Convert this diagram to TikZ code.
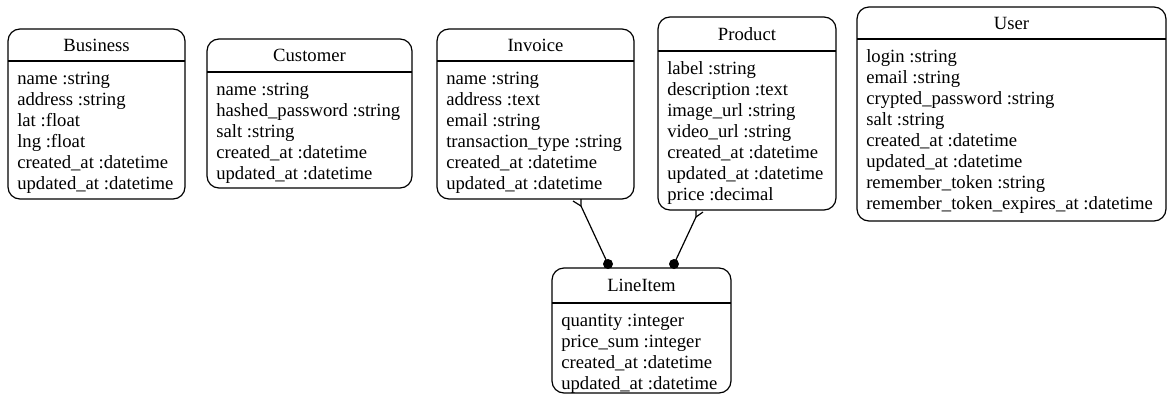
\documentclass[tikz,border=0pt]{standalone}
\usepackage{fontspec}
\setmainfont{Liberation Serif}
\usetikzlibrary{fit,calc}
\tikzset{
  ent/.style={draw, line width=0.9pt, rounded corners=9pt, inner sep=0pt},
  ttl/.style={inner sep=0pt, font=\fontsize{14}{16}\selectfont},
  attr/.style={inner sep=0pt, anchor=base west, font=\fontsize{14}{16}\selectfont},
  dotm/.style={circle, fill, inner sep=0pt, minimum size=7.5pt},
  rel/.style={line width=0.9pt}
}
\newcommand{\erbox}[8]{%
  \node[ent, fit={(#2,#3) (#4,#5)}] (#1) {};
  \draw[line width=0.9pt] (#2,#6) -- (#4,#6);
  \node[ttl] (#1-t) at ($(#2,#3)!0.5!(#4,#6)$) {#7};
  \foreach \a [count=\i] in {#8} {\node[attr] (#1-\i) at (#2+9, #6+23.5+21*\i-21) {\a};}
}
\begin{document}
\begin{tikzpicture}[x=0.75pt,y=-0.75pt]
\useasboundingbox (0,0) rectangle (1172,404);
\erbox{business}{8}{29}{185}{199}{61}{Business}{name :string, address :string, lat :float, lng :float, created\_at :datetime, updated\_at :datetime}
\erbox{customer}{207}{39}{412}{188}{72}{Customer}{name :string, hashed\_password :string, salt :string, created\_at :datetime, updated\_at :datetime}
\erbox{invoice}{437}{29}{634}{199}{61}{Invoice}{name :string, address :text, email :string, transaction\_type :string, created\_at :datetime, updated\_at :datetime}
\erbox{product}{658}{17}{836}{210}{51}{Product}{label :string, description :text, image\_url :string, video\_url :string, created\_at :datetime, updated\_at :datetime, price :decimal}
\erbox{user}{857}{7}{1166}{221}{39}{User}{login :string, email :string, crypted\_password :string, salt :string, created\_at :datetime, updated\_at :datetime, remember\_token :string, remember\_token\_expires\_at :datetime}
\erbox{lineitem}{552}{268}{731}{393}{303}{LineItem}{quantity :integer, price\_sum :integer, created\_at :datetime, updated\_at :datetime}
% connectors
\coordinate (ie) at (581,199);
\coordinate (ij) at (581,206);
\coordinate (it) at (573,201);
\node[dotm] (da) at (608,264) {};
\draw[rel] (ie) -- (ij) -- (da.center);
\draw[rel] (it) -- (ij);
\coordinate (pe) at (696,210);
\coordinate (pj) at (696,217);
\coordinate (pt) at (703,212);
\node[dotm] (db) at (674,264) {};
\draw[rel] (pe) -- (pj) -- (db.center);
\draw[rel] (pt) -- (pj);
\end{tikzpicture}
\end{document}
